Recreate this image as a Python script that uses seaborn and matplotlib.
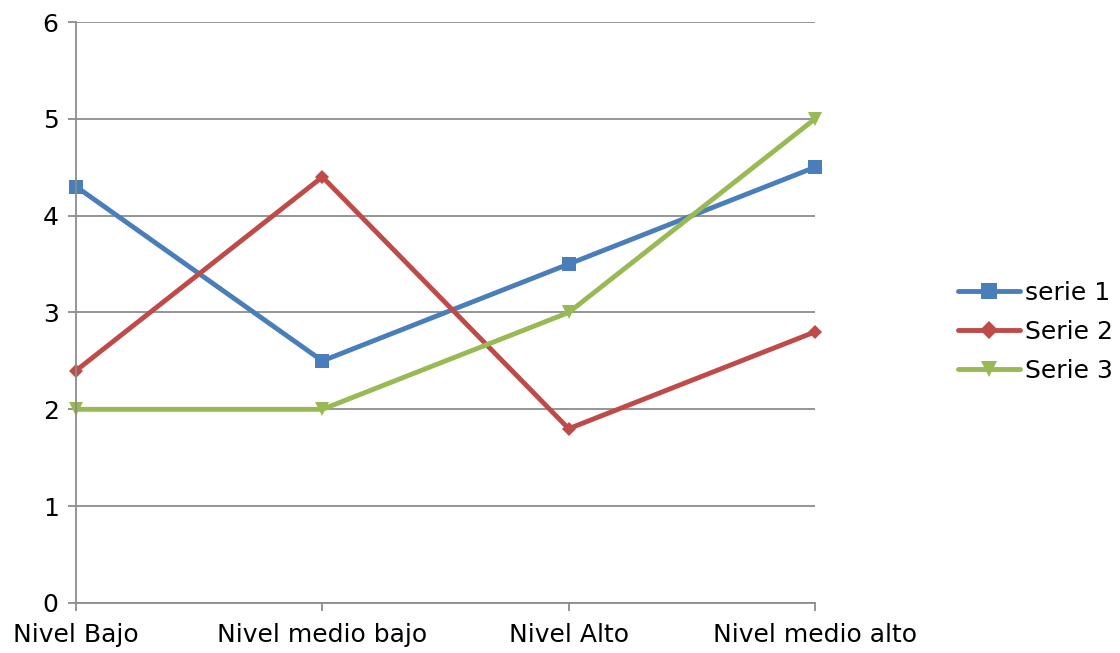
import matplotlib
matplotlib.use("Agg")
from matplotlib import pyplot as plt
import seaborn as sns
import pandas as pd

categories = ['Nivel Bajo', 'Nivel medio bajo', 'Nivel Alto', 'Nivel medio alto']
serie1 = [4.3, 2.5, 3.5, 4.5]
serie2 = [2.4, 4.4, 1.8, 2.8]
serie3 = [2.0, 2.0, 3.0, 5.0]
names = ['serie 1', 'Serie 2', 'Serie 3']

df = pd.DataFrame({
    'nivel': categories * 3,
    'valor': serie1 + serie2 + serie3,
    'serie': [n for n in names for _ in categories],
})

sns.set_style('white')
plt.rcParams['font.family'] = ['DejaVu Sans']
plt.rcParams['text.color'] = 'black'
plt.rcParams['xtick.color'] = 'black'
plt.rcParams['ytick.color'] = 'black'

colors = ['#4A7EBB', '#BE4B48', '#98B954']
markers = {'serie 1': 's', 'Serie 2': 'D', 'Serie 3': 'v'}
sizes = {'serie 1': 10, 'Serie 2': 7.5, 'Serie 3': 10}

fig = plt.figure(figsize=(11.2, 6.53), dpi=100)
ax = fig.add_axes([0.0679, 0.0766, 0.6598, 0.8897])

for name, c in zip(names, colors):
    sub = df[df['serie'] == name]
    sns.lineplot(data=sub, x='nivel', y='valor', color=c, marker=markers[name],
                 markersize=sizes[name], markeredgewidth=0, linewidth=3.5,
                 sort=False, ax=ax, label=name)

ax.set_xlim(0, 3)
ax.set_ylim(0, 6)
ax.set_yticks(range(0, 7))
ax.set_xlabel('')
ax.set_ylabel('')
ax.yaxis.grid(True, color='#8c8c8c', linewidth=1.3)
ax.xaxis.grid(False)
ax.set_axisbelow(True)
for s in ['top', 'right']:
    ax.spines[s].set_visible(False)
for s in ['left', 'bottom']:
    ax.spines[s].set_color('#8c8c8c')
    ax.spines[s].set_linewidth(1.3)
ax.tick_params(axis='both', bottom=True, left=True, direction='out', length=5.5,
               width=1.3, color='#8c8c8c', labelcolor='black', labelsize=18)
ax.tick_params(axis='x', pad=9)
ax.tick_params(axis='y', pad=7)
for lab in ax.get_xticklabels() + ax.get_yticklabels():
    lab.set_clip_on(False)
for line in ax.get_lines():
    line.set_clip_on(False)

ax.legend(loc='center left', bbox_to_anchor=(1.163, 0.467), frameon=False,
          fontsize=18, handlelength=2.5, handletextpad=0.2, labelspacing=0.6,
          markerscale=1.2)

fig.savefig('out.png', dpi=100)
